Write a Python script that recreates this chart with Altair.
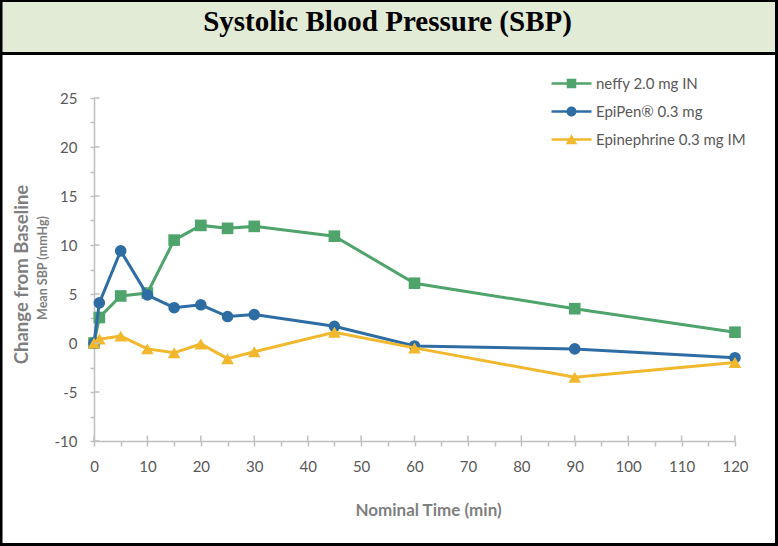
import altair as alt
import pandas as pd

# ---------------- data ----------------
times = [0, 1, 5, 10, 15, 20, 25, 30, 45, 60, 90, 120]
neffy = [0.0, 2.6, 4.8, 5.1, 10.5, 12.0, 11.7, 11.9, 10.9, 6.1, 3.5, 1.1]
epipen = [0.0, 4.1, 9.4, 4.9, 3.6, 3.9, 2.7, 2.9, 1.7, -0.3, -0.6, -1.5]
epi_im = [0.0, 0.4, 0.7, -0.6, -1.0, -0.1, -1.6, -0.9, 1.1, -0.5, -3.5, -2.0]

series_names = ["neffy 2.0 mg IN", "EpiPen® 0.3 mg", "Epinephrine 0.3 mg IM"]
series_values = [neffy, epipen, epi_im]
series_colors = ["#4ea46b", "#2e6ca4", "#f1b82d"]
series_shapes = ["square", "circle", "triangle-up"]

x_ticks = list(range(0, 121, 5))
x_major = list(range(0, 121, 10))
y_ticks = [v / 2 for v in range(-20, 51, 5)]
y_major = list(range(-10, 26, 5))

title_text = "Systolic Blood Pressure (SBP)"
x_title = "Nominal Time (min)"
y_title = "Change from Baseline"
y_subtitle = "Mean SBP (mmHg)"

# legend symbols: a line with the marker on it (unit path, scaled by sqrt(size)/2)
LINE = "M-4,-0.27H4V0.27H-4Z"
legend_paths = [
    LINE + "M-0.95,-0.95H0.95V0.95H-0.95Z",
    LINE + "M1.0,0A1.0,1.0,0,1,1,-1.0,0A1.0,1.0,0,1,1,1.0,0Z",
    LINE + "M0,-1.05L1.15,0.95L-1.15,0.95Z",
]

rows = []
for name, vals in zip(series_names, series_values):
    for t, v in zip(times, vals):
        rows.append({"series": name, "t": t, "v": v})
df = pd.DataFrame(rows)

GRAY_AXIS = "#bfbfbf"
LABEL = "#595959"
TITLE_GRAY = "#7f7f7f"

x_scale = alt.Scale(domain=[0, 120], nice=False, zero=False)
y_scale = alt.Scale(domain=[-10, 25], nice=False, zero=False)

x_enc = alt.X(
    "t:Q",
    scale=x_scale,
    axis=alt.Axis(
        values=x_ticks,
        labelExpr="datum.value % 10 === 0 ? '' + datum.value : ''",
        labelFlush=False,
        labelOverlap=False,
        grid=False,
        domainColor=GRAY_AXIS,
        domainWidth=1.5,
        tickColor=GRAY_AXIS,
        tickWidth=1.5,
        tickSize=5,
        labelFont="Lato",
        labelFontSize=15,
        labelColor=LABEL,
        labelPadding=13,
        title=x_title,
        titleFont="Lato",
        titleFontSize=17,
        titleFontWeight="bold",
        titleColor=TITLE_GRAY,
        titleX=334,
        titleY=74,
        titleAlign="center",
        titleBaseline="alphabetic",
    ),
)
y_enc = alt.Y(
    "v:Q",
    scale=y_scale,
    axis=alt.Axis(
        values=y_ticks,
        labelExpr="datum.value % 5 === 0 ? '' + datum.value : ''",
        labelFlush=False,
        labelOverlap=False,
        grid=False,
        domainColor=GRAY_AXIS,
        domainWidth=1.5,
        tickColor=GRAY_AXIS,
        tickWidth=1.5,
        tickSize=4,
        labelFont="Lato",
        labelFontSize=15,
        labelColor=LABEL,
        labelPadding=13,
        title=y_title,
        titleFont="Lato",
        titleFontSize=18.5,
        titleFontWeight="bold",
        titleColor=TITLE_GRAY,
        titleAngle=270,
        titleX=-67,
        titleY=176,
        titleAlign="center",
        titleBaseline="alphabetic",
    ),
)

layers = []
for name, color, shape in zip(series_names, series_colors, series_shapes):
    base = alt.Chart(df).transform_filter(alt.datum.series == name)
    layers.append(base.mark_line(color=color, strokeWidth=3).encode(x=x_enc, y=y_enc))
    size = 160 if shape == "triangle-up" else 135
    layers.append(
        base.mark_point(shape=shape, filled=True, color=color, size=size, opacity=1).encode(x=x_enc, y=y_enc)
    )

# inner halves of the major ticks (Excel-style crossing ticks)
y_inner = alt.Chart(pd.DataFrame({"v": y_major})).mark_rule(
    color=GRAY_AXIS, strokeWidth=1.5
).encode(y=y_enc, x=alt.value(0), x2=alt.value(5.5))
x_inner = alt.Chart(pd.DataFrame({"t": x_major})).mark_rule(
    color=GRAY_AXIS, strokeWidth=1.5
).encode(x=x_enc, y=alt.value(343), y2=alt.value(337.5))

legend_props = dict(
    title=None,
    orient="none",
    legendX=470,
    legendY=-22,
    padding=0,
    labelFont="Lato",
    labelFontSize=15,
    labelColor=LABEL,
    labelOffset=17,
    rowPadding=12,
    symbolOpacity=1,
    symbolStrokeWidth=0,
)
legend_layer = alt.Chart(df).mark_point(filled=True, opacity=0, size=100).encode(
    x=x_enc,
    y=y_enc,
    color=alt.Color(
        "series:N",
        scale=alt.Scale(domain=series_names, range=series_colors),
        legend=alt.Legend(**legend_props),
    ),
    shape=alt.Shape(
        "series:N",
        scale=alt.Scale(domain=series_names, range=legend_paths),
        legend=alt.Legend(**legend_props),
    ),
)

one = pd.DataFrame({"k": [0]})

band = alt.Chart(one).mark_rect(fill="#e2ebd6", stroke=None).encode(
    x=alt.value(-94), x2=alt.value(684), y=alt.value(-98), y2=alt.value(-44.5)
)
band_line = alt.Chart(one).mark_rule(color="black", strokeWidth=3).encode(
    x=alt.value(-94), x2=alt.value(684), y=alt.value(-44.5)
)
border = alt.Chart(one).mark_rect(fillOpacity=0, stroke="black", strokeWidth=3).encode(
    x=alt.value(-93), x2=alt.value(682.5), y=alt.value(-97.5), y2=alt.value(446.5)
)
title = alt.Chart(one).mark_text(
    font="Liberation Serif", fontSize=29, fontWeight="bold", color="black",
    align="center", baseline="alphabetic"
).encode(x=alt.value(293.5), y=alt.value(-67), text=alt.value(title_text))
subtitle = alt.Chart(one).mark_text(
    font="Lato", fontSize=12.5, fontWeight="bold", color=TITLE_GRAY,
    align="center", baseline="alphabetic", angle=270
).encode(x=alt.value(-47), y=alt.value(170), text=alt.value(y_subtitle))

chart = alt.layer(
    *layers, y_inner, x_inner, legend_layer, band, band_line, title, subtitle, border
).properties(
    width=641,
    height=343,
    autosize=alt.AutoSizeParams(type="none"),
    padding={"left": 94, "top": 98, "right": 43, "bottom": 105},
    background="white",
).configure_view(stroke=None)

chart.save("out.html", embed_options={"renderer": "svg", "actions": False})
